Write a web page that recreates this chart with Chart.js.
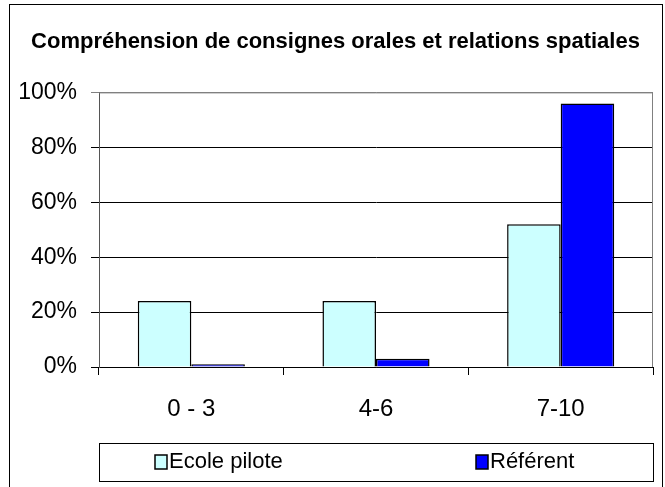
<!DOCTYPE html>
<html lang="fr">
  <head>
    <meta charset="UTF-8" />
    <title>Compréhension de consignes orales</title>
    <style>
      body { margin: 0; background: #fff; }
      #wrap { width: 665px; height: 487px; }
    </style>
  </head>
  <body>
    <div id="wrap">
      <canvas id="myChart" width="665" height="487"></canvas>
    </div>
    <script src="https://cdn.jsdelivr.net/npm/chart.js"></script>
    <script>
      const categories = ["0 - 3", "4-6", "7-10"];
      const ecolePilote = [24, 24, 52];
      const referent = [1, 3, 96];
      const yTicks = [0, 20, 40, 60, 80, 100];

      const FONT = "'Liberation Sans Narrow', 'Arial Narrow', 'Liberation Sans', Arial, sans-serif";

      // frame, plot border and legend box like the original spreadsheet chart
      const framePlugin = {
        id: "frame",
        afterDraw(chart) {
          const ctx = chart.ctx;
          const a = chart.chartArea;
          ctx.save();
          ctx.strokeStyle = "#000";
          ctx.lineWidth = 1;
          ctx.strokeRect(9.5, 4.5, 653, 490);

          ctx.strokeStyle = "#808080";
          ctx.beginPath();
          ctx.moveTo(a.left, a.top + 0.5);
          ctx.lineTo(a.right - 0.5, a.top + 0.5);
          ctx.lineTo(a.right - 0.5, a.bottom);
          ctx.stroke();

          // legend
          const top = chart.scales.x.bottom + 24;
          ctx.strokeStyle = "#000";
          ctx.strokeRect(Math.round(a.left) + 0.5, top + 0.5, a.right - a.left, 38);
          const items = [
            { label: "Ecole pilote", color: "#ccffff", x: a.left + 56 },
            { label: "Référent", color: "#0000ff", x: a.left + 377 },
          ];
          ctx.font = "22px " + FONT;
          ctx.textBaseline = "middle";
          const cy = top + 19;
          items.forEach((it) => {
            ctx.fillStyle = it.color;
            ctx.fillRect(it.x, cy - 7, 12, 14);
            ctx.lineWidth = 1.5;
            ctx.strokeRect(it.x, cy - 7, 12, 14);
            ctx.fillStyle = "#000";
            ctx.fillText(it.label, it.x + 14, cy);
          });
          ctx.restore();
        },
      };

      const ctx = document.getElementById("myChart");
      new Chart(ctx, {
        type: "bar",
        data: {
          labels: categories,
          datasets: [
            {
              label: "Ecole pilote",
              data: ecolePilote,
              backgroundColor: "#ccffff",
              borderColor: "#000",
              borderWidth: 1.5,
            },
            {
              label: "Référent",
              data: referent,
              backgroundColor: "#0000ff",
              borderColor: "#000",
              borderWidth: 1.5,
            },
          ],
        },
        options: {
          responsive: false,
          animation: false,
          layout: { padding: { left: 18, right: 12, top: 0, bottom: 68 } },
          datasets: { bar: { categoryPercentage: 0.58, barPercentage: 1 } },
          plugins: {
            legend: { display: false },
            tooltip: { enabled: false },
            title: {
              display: true,
              text: "Compréhension de consignes orales et relations spatiales",
              color: "#000",
              font: { family: FONT, size: 22, weight: "bold" },
              padding: { top: 29, bottom: 37 },
            },
          },
          scales: {
            x: {
              grid: {
                display: true,
                drawOnChartArea: false,
                offset: true,
                color: "#000",
                tickLength: 8,
              },
              border: { color: "#000" },
              ticks: { color: "#000", padding: 20, font: { family: FONT, size: 24 } },
              afterFit(scale) { scale.height = 52; },
            },
            y: {
              min: 0,
              max: 100,
              afterBuildTicks(scale) { scale.ticks = yTicks.map((v) => ({ value: v })); },
              grid: {
                color: (c) => (c.tick && c.tick.value === 100 ? "#808080" : "#000"),
                tickLength: 8,
              },
              border: { color: "#555" },
              ticks: {
                color: "#000",
                padding: 14,
                font: { family: FONT, size: 23 },
                callback: (v) => v + "%",
              },
              afterFit(scale) { scale.width = 81; },
            },
          },
        },
        plugins: [framePlugin],
      });
    </script>
  </body>
</html>
